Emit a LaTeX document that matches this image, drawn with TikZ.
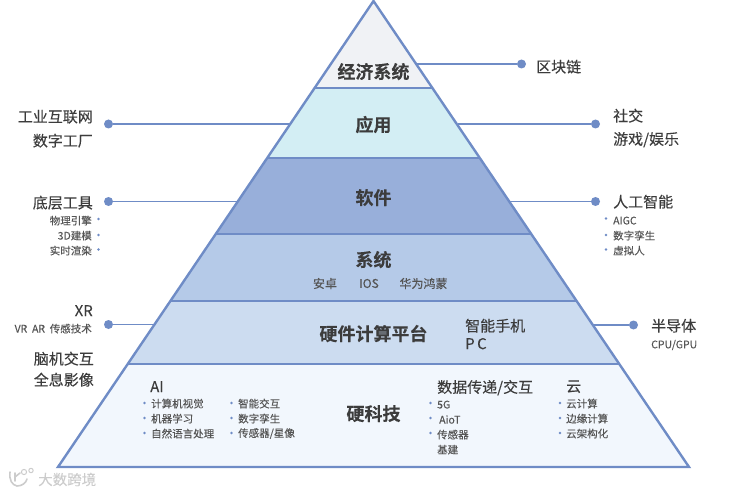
\documentclass[tikz,border=0pt]{standalone}
\usepackage{fontspec}
\setmainfont[FakeBold=0.12,BoldFont={Noto Sans CJK SC Bold}]{Noto Sans CJK SC}
\definecolor{edgeblue}{HTML}{6F8CC6}
\definecolor{inkdark}{HTML}{3C3C3C}
\definecolor{inksoft}{HTML}{555555}
\definecolor{fa}{HTML}{F0F2F5}
\definecolor{fb}{HTML}{D3EEF4}
\definecolor{fc}{HTML}{98AFDA}
\definecolor{fd}{HTML}{B5CAE8}
\definecolor{fe}{HTML}{CCDCF0}
\definecolor{ff}{HTML}{F2F7FD}
\tikzset{
  layertitle/.style={font=\fontsize{18}{19}\selectfont\bfseries,text=inkdark,inner sep=0pt,yshift=-0.6pt},
  biglabel/.style={font=\fontsize{15}{16}\selectfont,text=inkdark,inner sep=0pt,yshift=-0.7pt},
  smalllabel/.style={font=\fontsize{10.5}{12}\selectfont,text=inksoft,inner sep=0pt,yshift=-0.6pt},
  midlabel/.style={font=\fontsize{12}{14}\selectfont,text=inksoft,inner sep=0pt,yshift=-0.5pt},
  leftlab/.style={anchor=east},
  rightlab/.style={anchor=west},
  enddot/.style={circle,fill=edgeblue,inner sep=0pt,minimum size=9pt},
  bulletdot/.style={circle,fill=edgeblue,inner sep=0pt,minimum size=2.8pt},
  link/.style={draw=edgeblue,line width=1.4pt},
  divider/.style={draw=edgeblue,line width=2pt},
}
\begin{document}
\begin{tikzpicture}[x=1pt,y=-1pt]
\useasboundingbox (0,0) rectangle (734,492);
% layers
\fill[fa] (373.5,1) -- (432.5,88.5) -- (314.5,88.5) -- cycle;
\fill[fb] (314.5,88.5) -- (432.5,88.5) -- (479.5,158) -- (267.5,158) -- cycle;
\fill[fc] (267.5,158) -- (479.5,158) -- (531,234) -- (216,234) -- cycle;
\fill[fd] (216,234) -- (531,234) -- (577,301) -- (170,301) -- cycle;
\fill[fe] (170,301) -- (577,301) -- (619,363.5) -- (128,363.5) -- cycle;
\fill[ff] (128,363.5) -- (619,363.5) -- (689,467) -- (58,467) -- cycle;
\draw[divider] (314.5,88.5) -- (432.5,88.5);
\draw[divider] (267.5,158) -- (479.5,158);
\draw[divider] (216,234) -- (531,234);
\draw[divider] (170,301) -- (577,301);
\draw[divider] (128,363.5) -- (619,363.5);
\draw[edgeblue,line width=2.4pt,line join=miter] (373.5,1) -- (689,467) -- (58,467) -- cycle;
% connector anchors
\coordinate (ca) at (417,64);
\coordinate (cb) at (290,124);
\coordinate (cc) at (458,124);
\coordinate (cd) at (237,201.5);
\coordinate (ce) at (510,201.5);
\coordinate (cf) at (155,324.5);
\coordinate (cg) at (594,325);
\node[enddot] (da) at (521.5,64) {};
\node[enddot] (db) at (108.5,124) {};
\node[enddot] (dc) at (595.5,124) {};
\node[enddot] (dd) at (108.5,201.5) {};
\node[enddot] (de) at (595.5,201.5) {};
\node[enddot] (df) at (108.5,324.5) {};
\node[enddot] (dg) at (633.5,325) {};
\draw[link] (ca) -- (da);
\draw[link] (cb) -- (db);
\draw[link] (cc) -- (dc);
\draw[link] (cd) -- (dd);
\draw[link] (ce) -- (de);
\draw[link] (cf) -- (df);
\draw[link] (cg) -- (dg);
% layer titles
\node[layertitle] (t1) at (373.5,71) {经济系统};
\node[layertitle] (t2) at (373.5,124) {应用};
\node[layertitle] (t3) at (373.5,197) {软件};
\node[layertitle] (t4) at (373.5,259) {系统};
\node[layertitle] (t5) at (373.5,333) {硬件计算平台};
\node[layertitle] (t6) at (373.5,413) {硬科技};
% system
\node[midlabel] (s1) at (325,283) {安卓};
\node[midlabel] (s2) at (369,283) {IOS};
\node[midlabel] (s3) at (423.5,283) {华为鸿蒙};
% hardware platform
\node[biglabel,rightlab] (h1) at (465,325) {智能手机};
\node[biglabel,rightlab] (h2) at (465,343) {P\,C};
% left labels
\node[biglabel,leftlab] (l1) at (93,116) {工业互联网};
\node[biglabel,leftlab] (l2) at (93,140) {数字工厂};
\node[biglabel,leftlab] (l3) at (93,202) {底层工具};
\node[smalllabel,leftlab] (l4) at (92,220) {物理引擎};
\node[smalllabel,leftlab] (l5) at (92,235) {3D建模};
\node[smalllabel,leftlab] (l6) at (92,250) {实时渲染};
\node[bulletdot] (lb1) at (98.5,219) {};
\node[bulletdot] (lb2) at (98.5,235) {};
\node[bulletdot] (lb3) at (98.5,249.5) {};
\node[biglabel,leftlab] (l7) at (93,310) {XR};
\node[smalllabel,leftlab] (l8) at (92,328) {VR\ \ AR\ \ 传感技术};
\node[biglabel,leftlab] (l9) at (94,358) {脑机交互};
\node[biglabel,leftlab] (l10) at (94,379) {全息影像};
% right labels
\node[biglabel,rightlab] (r1) at (536,66) {区块链};
\node[biglabel,rightlab] (r2) at (613,115) {社交};
\node[biglabel,rightlab] (r3) at (613,139) {游戏/娱乐};
\node[biglabel,rightlab] (r4) at (613,201) {人工智能};
\node[smalllabel,rightlab] (r5) at (613,220) {AIGC};
\node[smalllabel,rightlab] (r6) at (613,235) {数字孪生};
\node[smalllabel,rightlab] (r7) at (613,250) {虚拟人};
\node[bulletdot] (rb1) at (606,218.5) {};
\node[bulletdot] (rb2) at (606,235) {};
\node[bulletdot] (rb3) at (606,249.5) {};
\node[biglabel,rightlab] (r8) at (651,325) {半导体};
\node[smalllabel,rightlab] (r9) at (651,344.5) {CPU/GPU};
% base: AI
\node[biglabel,rightlab] (a0) at (150,386) {AI};
\node[smalllabel,rightlab] (a1) at (151,403) {计算机视觉};
\node[smalllabel,rightlab] (a2) at (151,418) {机器学习};
\node[smalllabel,rightlab] (a3) at (151,433) {自然语言处理};
\node[bulletdot] (ab1) at (144.5,403) {};
\node[bulletdot] (ab2) at (144.5,418) {};
\node[bulletdot] (ab3) at (144.5,433) {};
\node[smalllabel,rightlab] (a4) at (238,403) {智能交互};
\node[smalllabel,rightlab] (a5) at (238,418) {数字孪生};
\node[smalllabel,rightlab] (a6) at (238,433) {传感器/星像};
\node[bulletdot] (ab4) at (231.5,403) {};
\node[bulletdot] (ab5) at (231.5,418) {};
\node[bulletdot] (ab6) at (231.5,433) {};
% base: data
\node[biglabel,rightlab] (d0) at (437,387) {数据传递/交互};
\node[smalllabel,rightlab] (d1) at (437,404) {5G};
\node[smalllabel,rightlab] (d2) at (439,419) {AioT};
\node[smalllabel,rightlab] (d3) at (437,434) {传感器};
\node[smalllabel,rightlab] (d4) at (437,449) {基建};
\node[bulletdot] (db1) at (430.5,403) {};
\node[bulletdot] (db2) at (430.5,418) {};
\node[bulletdot] (db3) at (430.5,433) {};
% base: cloud
\node[biglabel,rightlab] (y0) at (566,386) {云};
\node[smalllabel,rightlab] (y1) at (566,403) {云计算};
\node[smalllabel,rightlab] (y2) at (566,418) {边缘计算};
\node[smalllabel,rightlab] (y3) at (566,433) {云架构化};
\node[bulletdot] (yb1) at (560,403) {};
\node[bulletdot] (yb2) at (560,418) {};
\node[bulletdot] (yb3) at (560,433) {};
% watermark
\node[font=\fontsize{14.5}{15}\selectfont,text=black!20,inner sep=0pt,anchor=west] (w) at (38,479.5) {大数跨境};
\draw[black!20,line width=1.6pt,line cap=round] (10,472) .. controls (9,480) and (12,485) .. (17,486) .. controls (22,486) and (26,483) .. (27,479);
\draw[black!20,line width=1.6pt,line cap=round] (15,473) -- (15,481) (15,477) -- (20,473);
\draw[black!20,line width=1pt] (24,472) circle (2.6pt) (31,470.5) circle (2.2pt);
\end{tikzpicture}
\end{document}
